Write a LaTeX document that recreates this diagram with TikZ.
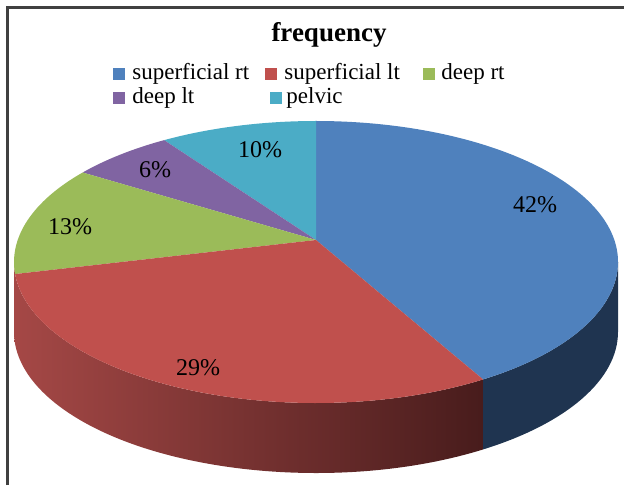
\documentclass[tikz,border=0pt]{standalone}
\usepackage{fontspec}
\setmainfont{Liberation Serif}
\usetikzlibrary{positioning}
\definecolor{blueS}{RGB}{79,129,189}
\definecolor{redS}{RGB}{192,80,77}
\definecolor{greenS}{RGB}{155,187,89}
\definecolor{purpleS}{RGB}{128,100,162}
\definecolor{cyanS}{RGB}{75,172,198}
\definecolor{blueD}{RGB}{31,52,80}
\definecolor{redL}{RGB}{165,72,70}
\definecolor{redD}{RGB}{72,28,28}
\tikzset{
  pct/.style={font=\fontsize{24}{28}\selectfont, inner sep=0pt},
  legbox/.style={minimum size=12pt, inner sep=0pt},
  legtext/.style={font=\fontsize{23}{26}\selectfont, inner sep=0pt, anchor=west},
}
\begin{document}
\begin{tikzpicture}[x=1pt, y=1pt]
\useasboundingbox (0,0) rectangle (624,485);
% Frame
\draw[black!75, line width=3pt] (7.5,0) -- (7.5,477.5) -- (624,477.5);

\coordinate (C) at (316,223);
\coordinate (A) at (316,245);

% Sides
\shade[left color=redL, right color=redD] (C) ++(180:302 and 141)
  arc[start angle=180, end angle=303.6, x radius=302, y radius=141]
  -- ++(0,-70) arc[start angle=303.6, end angle=180, x radius=302, y radius=141] -- cycle;
\fill[blueD] (C) ++(303.6:302 and 141)
  arc[start angle=303.6, end angle=360, x radius=302, y radius=141]
  -- ++(0,-70) arc[start angle=360, end angle=303.6, x radius=302, y radius=141] -- cycle;

% Slices
\foreach \a/\b/\c in {-56.4/90/blueS, 90/120.2/cyanS, 120.2/140.6/purpleS,
  140.6/184.9/greenS, 184.9/303.6/redS}
  \fill[\c] (C) ++(\a:302 and 141)
    arc[start angle=\a, end angle=\b, x radius=302, y radius=141] -- (A) -- cycle;

% Labels
\node[pct] (p42) at (535,280) {42\%};
\node[pct] (p10) at (260,335) {10\%};
\node[pct] (p6) at (155,315) {6\%};
\node[pct] (p13) at (70,258) {13\%};
\node[pct] (p29) at (198,117) {29\%};

% Title
\node[font=\bfseries\fontsize{27}{30}\selectfont, inner sep=0pt] (title) at (329,450) {frequency};

% Legend
\node[legbox, fill=blueS] (k1) at (119,411) {};
\node[legtext, right=7pt of k1] (t1) {superficial rt};
\node[legbox, fill=redS] (k2) at (271,411) {};
\node[legtext, right=7pt of k2] (t2) {superficial lt};
\node[legbox, fill=greenS] (k3) at (429,411) {};
\node[legtext, right=6pt of k3] (t3) {deep rt};
\node[legbox, fill=purpleS] (k4) at (119,387) {};
\node[legtext, right=7pt of k4] (t4) {deep lt};
\node[legbox, fill=cyanS] (k5) at (276,387) {};
\node[legtext, right=4pt of k5] (t5) {pelvic};
\end{tikzpicture}
\end{document}
